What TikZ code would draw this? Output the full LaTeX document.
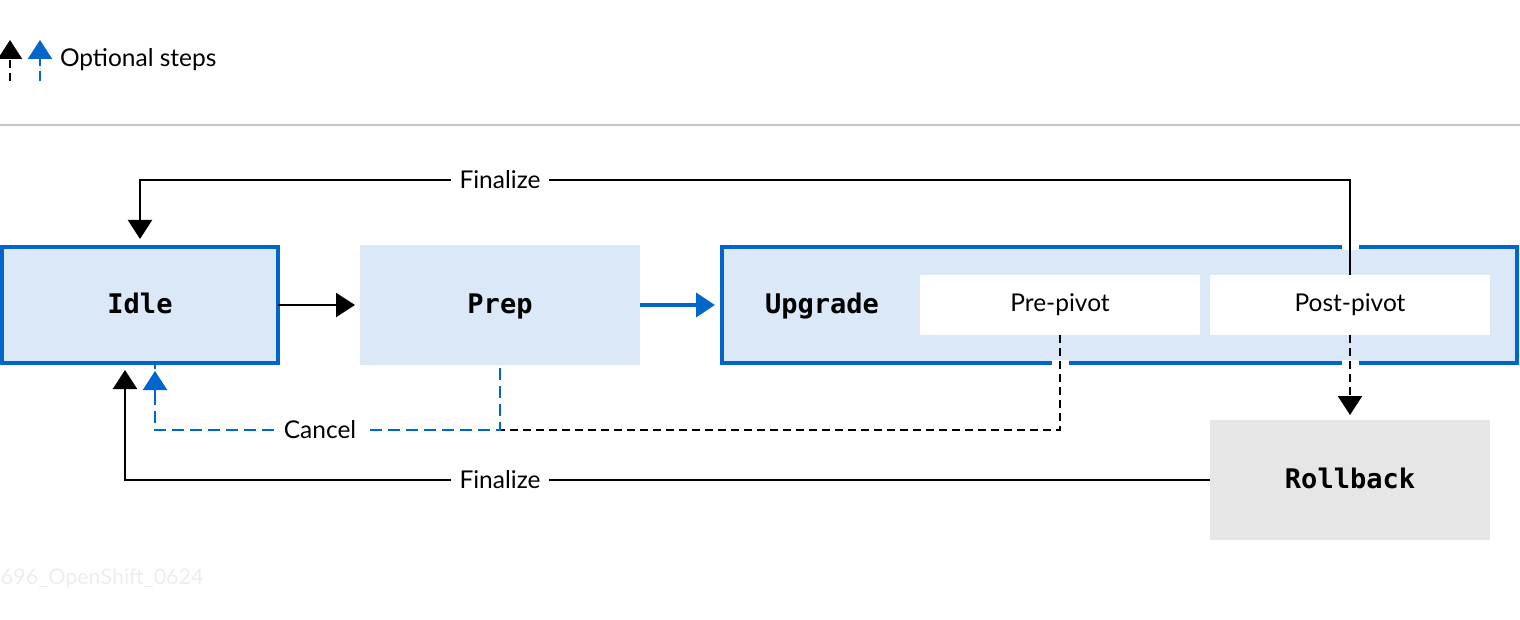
\documentclass[tikz,border=0pt]{standalone}
\usepackage{fontspec}
\setmainfont{Lato}
\newfontfamily\codefont{DejaVu Sans Mono}
\usetikzlibrary{arrows.meta,calc}
\definecolor{rhblue}{HTML}{0066CC}
\definecolor{paleblue}{HTML}{DAE8F7}
\definecolor{palegray}{HTML}{E6E6E6}
\definecolor{rulegray}{HTML}{C7C7C7}
\definecolor{markgray}{HTML}{EDEDED}
\begin{document}
\begin{tikzpicture}[x=1pt,y=-1pt,
  every node/.style={outer sep=0pt},
  stagebox/.style={rectangle, fill=paleblue, inner sep=0pt,
    minimum width=280pt, minimum height=120pt,
    text height=21pt, text depth=5pt,
    font={\codefont\bfseries\fontsize{27}{30}\selectfont}},
  framed/.style={draw=rhblue, line width=4.3pt, minimum width=276pt, minimum height=116pt},
  substep/.style={rectangle, fill=white, inner sep=0pt,
    minimum width=280pt, minimum height=60pt,
    text height=18pt, text depth=5pt,
    font={\fontsize{24.5}{28}\selectfont}},
  lab/.style={fill=white, inner xsep=9pt, inner ysep=2pt,
    font={\fontsize{24.5}{28}\selectfont}},
  headtip/.style={-{Triangle[width=24pt,length=19pt]}},
  conn/.style={draw=black, line width=2.2pt, headtip},
  optconn/.style={conn, dash pattern=on 8pt off 5pt},
  bluecancel/.style={draw=rhblue, line width=2.2pt, dash pattern=on 12pt off 6pt},
]
\useasboundingbox (0,0) rectangle (1520,620);

% legend
\coordinate (lk0) at (10,81);
\coordinate (lk1) at (10,40);
\coordinate (lb0) at (40,81);
\coordinate (lb1) at (40,40);
\draw[optconn] (lk0) -- (lk1);
\draw[optconn, draw=rhblue, fill=rhblue, dash pattern=on 10pt off 5pt] (lb0) -- (lb1);
\node[anchor=west, inner xsep=0pt, font={\fontsize{24.5}{28}\selectfont}] (legend) at (60,60) {Optional steps};

% separator
\draw[rulegray, line width=2pt] (0,125) -- (1520,125);

% stages
\node[stagebox, framed] (idle) at (140,305) {Idle};
\node[stagebox] (prep) at (500,305) {Prep};
\node[stagebox, framed, minimum width=795pt] (up) at (1119.5,305) {};
\node[anchor=base west, inner sep=0pt, font={\codefont\bfseries\fontsize{27}{30}\selectfont}] (uplabel) at (765,313) {Upgrade};
\node[substep] (pre) at (1060,305) {Pre-pivot};
\node[substep] (post) at (1350,305) {Post-pivot};
\node[stagebox, fill=palegray] (roll) at (1350,480) {Rollback};

% breaks in the frame where the connectors pass through
\foreach \p in {(post.north |- up.north), (pre.south |- up.south), (post.south |- up.south)} {
  \fill[white] \p ++(-8.5,-2.6) rectangle ++(17,5.2);
}

% main flow
\draw[conn, shorten >=5pt] (idle.east) -- (prep.west);
\draw[conn, draw=rhblue, fill=rhblue, line width=4pt, shorten >=7pt] (prep.east) -- (up.west);

% finalize after upgrade
\coordinate (topy) at (0,180);
\draw[conn, shorten >=8pt] (post.north) -- (post.north |- topy) -| (idle.north);
\node[lab] (fin1) at (prep.north |- topy) {Finalize};

% finalize after rollback
\draw[conn, shorten >=7pt] (roll.west) -| ([xshift=-15pt]idle.south);
\node[lab] (fin2) at (prep.south |- roll.west) {Finalize};

% cancel paths
\coordinate (cany) at (0,430);
\draw[optconn, -] (pre.south) |- (prep.south |- cany);
\draw[bluecancel, dash phase=15pt] (prep.south) -- (prep.south |- cany) -| ([xshift=15pt]idle.south);
\draw[bluecancel, headtip, fill=rhblue, dash pattern=on 40pt off 0pt, shorten >=8pt]
  ($([xshift=15pt]idle.south)+(0,30)$) -- ([xshift=15pt]idle.south);
\node[lab] (cancel) at (320,430) {Cancel};

% rollback path
\draw[optconn, shorten >=5pt] (post.south) -- (roll.north);

% figure mark
\node[anchor=west, text=markgray, inner sep=0pt, font={\fontsize{21.5}{25}\selectfont}] (mark) at (1,578) {696\_OpenShift\_0624};
\end{tikzpicture}
\end{document}
